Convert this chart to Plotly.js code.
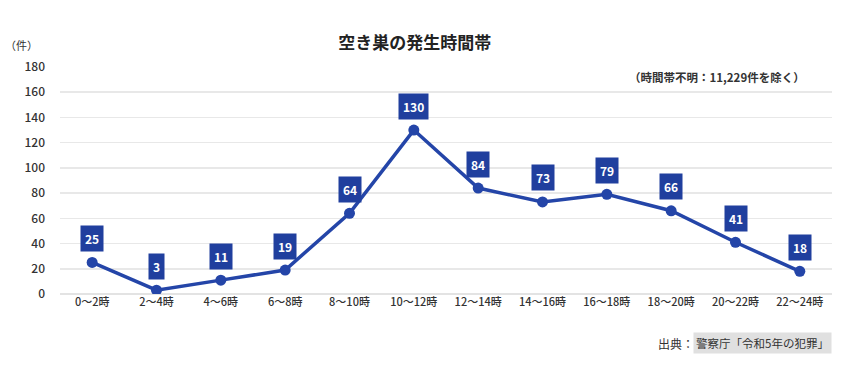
<!DOCTYPE html>
<html><head><meta charset="utf-8">
<script src="https://cdn.plot.ly/plotly-3.0.1.min.js"></script>
<style>body{margin:0;background:#fff}#c{width:850px;height:372px}</style>
</head><body><div id="c"></div>
<script>
const categories = ["0～2時","2～4時","4～6時","6～8時","8～10時","10～12時","12～14時","14～16時","16～18時","18～20時","20～22時","22～24時"];
const values = [25,3,11,19,64,130,84,73,79,66,41,18];
const yTicks = [0,20,40,60,80,100,120,140,160,180];

const FONT = '"Noto Sans CJK JP","Noto Sans",sans-serif';
const BLUE = '#2445a8';
const LABEL_BG = '#203f9e';

const labelAnns = categories.map((c,i)=>({
  x:c, y:values[i], xref:'x', yref:'y', text:'<b>'+values[i]+'</b>', showarrow:false,
  yshift:24, bgcolor:LABEL_BG, font:{family:FONT,size:12,color:'#fff'}, borderpad:4
}));

const layout = {
  width:850, height:372,
  margin:{l:60,r:18,t:67,b:78},
  paper_bgcolor:'#fff', plot_bgcolor:'#fff',
  showlegend:false,
  title:{text:'<b>空き巣の発生時間帯</b>', x:0.488, xanchor:'center', y:0.885, yanchor:'middle', font:{family:FONT,size:17,color:'#222'}},
  xaxis:{type:'category', range:[-0.5,11.5], autorange:false, showgrid:false, zeroline:false, showline:false, ticks:'',
    tickfont:{family:FONT,size:11,color:'#333',weight:500}, fixedrange:true},
  yaxis:{range:[0,180], tickvals:yTicks, showgrid:true, gridcolor:'#e8e8e8', gridwidth:1.5,
    zeroline:true, zerolinecolor:'#e3e3e3', zerolinewidth:1.5, showline:false, ticks:'',
    tickfont:{family:FONT,size:12,color:'#333',weight:500}, ticklabelstandoff:14, fixedrange:true},
  annotations: labelAnns.concat([
    {xref:'paper', yref:'paper', x:-0.05, y:1.097, xanchor:'center', yanchor:'middle', showarrow:false,
     text:'（件）', font:{family:FONT,size:11,color:'#333'}},
    {xref:'paper', yref:'paper', x:0.968, y:0.955, xanchor:'right', yanchor:'middle', showarrow:false,
     text:'<b>（時間帯不明：11,229件を除く）</b>', font:{family:FONT,size:11.5,color:'#333'}},
    {xref:'paper', yref:'paper', x:0.824, y:-0.216, xanchor:'right', yanchor:'middle', showarrow:false,
     text:'出典：', font:{family:FONT,size:12,color:'#333'}},
    {xref:'paper', yref:'paper', x:1.0, y:-0.216, xanchor:'right', yanchor:'middle', showarrow:false,
     text:'警察庁「令和5年の犯罪」', bgcolor:'#e0e0e0', borderpad:2, font:{family:FONT,size:11.5,color:'#333'}}
  ])
};

Plotly.newPlot('c',[{
  x:categories, y:values, type:'scatter', mode:'lines+markers',
  line:{color:BLUE,width:3.5}, marker:{color:BLUE,size:11},
  hoverinfo:'skip'
}], layout, {staticPlot:true, displayModeBar:false});
</script></body></html>
